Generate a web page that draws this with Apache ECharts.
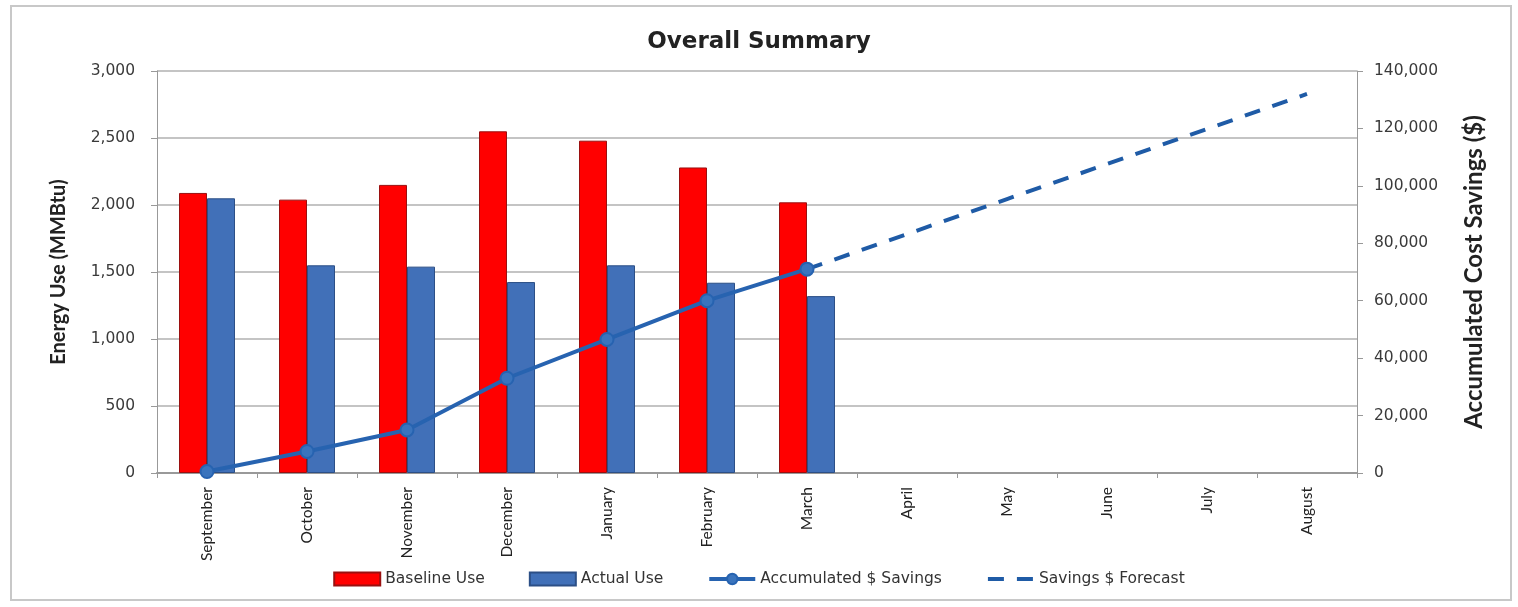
<!DOCTYPE html>
<html>
<head>
<meta charset="utf-8">
<title>Overall Summary</title>
<script src="https://cdn.jsdelivr.net/npm/echarts@6/dist/echarts.min.js"></script>
<style>
  html, body { margin: 0; padding: 0; background: #fff; }
  #chart { width: 1518px; height: 607px; }
</style>
</head>
<body>
<div id="chart"></div>
<script>
// months on the x axis
const months = ['September', 'October', 'November', 'December', 'January', 'February',
  'March', 'April', 'May', 'June', 'July', 'August'];
// energy use, MMBtu
const baselineUse = [2090, 2040, 2150, 2550, 2480, 2280, 2020, null, null, null, null, null];
const actualUse = [2050, 1550, 1540, 1425, 1550, 1420, 1320, null, null, null, null, null];
// accumulated cost savings, $
const savings = [500, 7500, 15000, 33000, 46500, 60000, 71000, null, null, null, null, null];
const forecast = [null, null, null, null, null, null, 71000, 83200, 95400, 107600, 119800, 132000];
// axis ticks
const leftTicks = [0, 3000, 500];
const rightTicks = [0, 140000, 20000];

const chart = echarts.init(document.getElementById('chart'));
const font = 'Lato, "Open Sans", sans-serif';
const wide = '"DejaVu Sans", sans-serif'; // horizontal text in the picture is stretched
const lineBlue = '#2763b0';

const option = {
  animation: false,
  textStyle: { fontFamily: font },
  title: {
    text: 'Overall Summary',
    left: 'center',
    top: 26,
    textStyle: { fontSize: 23, fontWeight: 'bold', color: '#222', fontFamily: wide }
  },
  graphic: [{
    type: 'rect',
    shape: { x: 11, y: 6, width: 1500, height: 594 },
    style: { fill: 'none', stroke: '#c8c8c8', lineWidth: 2 },
    silent: true
  }],
  legend: {
    bottom: 15,
    left: 'center',
    itemGap: 44,
    itemWidth: 46,
    itemHeight: 13,
    textStyle: { fontSize: 15.5, color: '#333', fontFamily: wide },
    lineStyle: { width: 4 },
    data: [
      { name: 'Baseline Use', icon: 'rect' },
      { name: 'Actual Use', icon: 'rect' },
      'Accumulated $ Savings',
      { name: 'Savings $ Forecast', itemStyle: { opacity: 0 } }
    ]
  },
  grid: { left: 157, right: 161, top: 71, bottom: 134 },
  xAxis: {
    type: 'category',
    data: months,
    axisLine: { lineStyle: { color: '#999', width: 2 } },
    axisTick: { show: true, interval: 0, length: 5, lineStyle: { color: '#999' } },
    axisLabel: { rotate: 90, interval: 0, fontSize: 15.5, color: '#222', margin: 14 }
  },
  yAxis: [{
    type: 'value',
    min: leftTicks[0],
    max: leftTicks[1],
    interval: leftTicks[2],
    name: 'Energy Use (MMBtu)',
    nameLocation: 'middle',
    nameGap: 88,
    nameTextStyle: { fontSize: 20, fontWeight: 'bold', color: '#222' },
    axisLine: { show: true, lineStyle: { color: '#999' } },
    axisTick: { show: true, length: 6, lineStyle: { color: '#999' } },
    axisLabel: {
      fontSize: 15.5, color: '#3a3a3a', margin: 22, fontFamily: wide,
      formatter: v => v.toLocaleString('en-US')
    },
    splitLine: { lineStyle: { color: '#c4c4c4', width: 2 } }
  }, {
    type: 'value',
    min: rightTicks[0],
    max: rightTicks[1],
    interval: rightTicks[2],
    name: 'Accumulated Cost Savings ($)',
    nameLocation: 'middle',
    nameGap: 105,
    nameRotate: 90,
    nameTextStyle: { fontSize: 24, fontWeight: 'bold', color: '#222' },
    axisLine: { show: true, lineStyle: { color: '#999' } },
    axisTick: { show: true, length: 6, lineStyle: { color: '#999' } },
    axisLabel: {
      fontSize: 15.5, color: '#3a3a3a', margin: 17, fontFamily: wide,
      formatter: v => v.toLocaleString('en-US')
    },
    splitLine: { show: false }
  }],
  series: [{
    name: 'Baseline Use',
    type: 'bar',
    data: baselineUse,
    barWidth: 28,
    barGap: '0%',
    itemStyle: { color: '#ff0000', borderColor: '#9a1010', borderWidth: 1 }
  }, {
    name: 'Actual Use',
    type: 'bar',
    data: actualUse,
    barWidth: 28,
    barGap: '0%',
    itemStyle: { color: '#4170b8', borderColor: '#2c4f86', borderWidth: 1 }
  }, {
    name: 'Accumulated $ Savings',
    type: 'line',
    yAxisIndex: 1,
    data: savings,
    symbol: 'circle',
    symbolSize: 13,
    lineStyle: { color: lineBlue, width: 4 },
    itemStyle: { color: '#3a74bd', borderColor: lineBlue, borderWidth: 2 },
    z: 5
  }, {
    name: 'Savings $ Forecast',
    type: 'line',
    yAxisIndex: 1,
    data: forecast,
    symbol: 'none',
    lineStyle: { color: '#1f5ba6', width: 4, type: [16, 13] },
    itemStyle: { color: '#1f5ba6' },
    z: 4
  }]
};

chart.setOption(option);
window.addEventListener('resize', function () {
  chart.resize();
});
</script>
</body>
</html>
